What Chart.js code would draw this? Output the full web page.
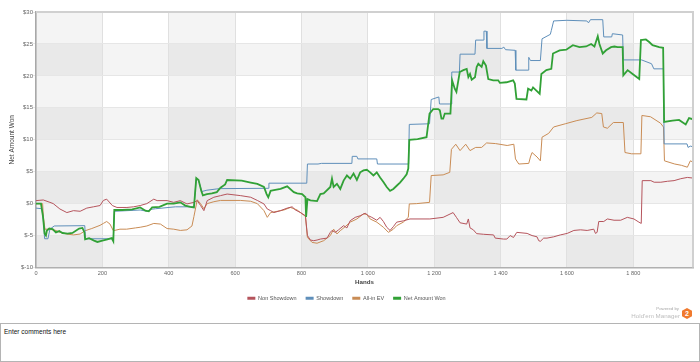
<!DOCTYPE html>
<html>
<head>
<meta charset="utf-8">
<script src="https://cdn.jsdelivr.net/npm/chart.js@4.4.1/dist/chart.umd.min.js"></script>
<style>
  html, body { margin: 0; padding: 0; background: #fff; }
  body { width: 700px; height: 362px; position: relative; overflow: hidden; font-family: "Liberation Sans", Arial, sans-serif; }
  #wrap { position: absolute; left: 0; top: 0; width: 700px; height: 322px; }
  #logo { position: absolute; left: 600px; top: 305px; width: 93px; height: 16px; }
  #logo .pb { position: absolute; right: 14px; top: 1px; font-size: 4.3px; color: #a8a8a8; white-space: nowrap; }
  #logo .hm { position: absolute; right: 13px; top: 7px; font-size: 6.2px; color: #bdbdbd; white-space: nowrap; }
  #logo .hex { position: absolute; right: 1px; top: 3px; width: 10px; height: 11px; background: #f07a2e;
    clip-path: polygon(50% 0, 100% 25%, 100% 75%, 50% 100%, 0 75%, 0 25%);
    color: #fff; font-weight: bold; font-size: 7px; line-height: 11px; text-align: center; }
  #comments { position: absolute; left: 0; top: 323px; width: 700px; height: 39px; box-sizing: border-box;
    border: 1px solid #b4b4b4; font-size: 6.5px; color: #111; padding: 4px 3px; }
</style>
</head>
<body>
<div id="wrap"><canvas id="graph" width="700" height="322"></canvas></div>
<div id="logo"><span class="pb">Powered by</span><span class="hm">Hold'em Manager</span><span class="hex">2</span></div>
<div id="comments">Enter comments here</div>
<script>
// Hands graph: four cumulative winnings lines over hands played.

const seriesNames = ["Non Showdown", "Showdown", "All-in EV", "Net Amount Won"];
const seriesColors = ["#b5545c", "#5f8fba", "#c98c55", "#31a136"];

const HANDS_MAX = 1980;
const Y_MIN = -10, Y_MAX = 30;
const xTickValues = [0, 200, 400, 600, 800, 1000, 1200, 1400, 1600, 1800];

// Non Showdown winnings
const nsHands = [0,22,42,52,72,93,113,133,153,173,193,203,213,230,244,274,294,314,334,355,365,395,415,435,455,476,486,496,506,516,536,556,576,617,647,667,687,697,707,717,737,757,772,782,797,812,818,827,837,847,857,877,887,892,902,912,927,937,947,962,977,992,1002,1012,1027,1037,1047,1057,1067,1077,1087,1107,1127,1187,1227,1257,1267,1278,1298,1303,1308,1318,1328,1349,1379,1384,1409,1419,1429,1439,1449,1480,1495,1510,1515,1520,1530,1540,1560,1580,1601,1621,1641,1661,1681,1686,1691,1696,1711,1722,1742,1762,1782,1802,1817,1824,1827,1853,1863,1883,1903,1923,1943,1963,1980];
const nsValues = [0.47,0.57,0.2,0,-0.84,-1.4,-1.1,-1.2,-0.7,-0.5,-0.3,0.5,0.7,-0.3,-0.6,-0.6,-0.5,-0.3,0,0.7,0.47,0.47,0.2,0.47,-0.05,0.2,0.47,-0.3,-1.1,0.47,1.0,1.25,1.5,1.25,1.0,0.5,-0.05,-0.84,-1.1,-1.4,-1.1,-0.7,-0.5,-1.0,-1.4,-1.9,-5.0,-5.7,-5.8,-5.7,-5.55,-5.4,-4.5,-4.2,-4.5,-4.1,-3.45,-3.8,-2.67,-2.15,-1.9,-1.5,-1.9,-2.15,-2.6,-2.15,-2.8,-3.7,-4.2,-3.6,-2.9,-2.7,-2.4,-2.4,-2.15,-1.4,-2.15,-3.0,-3.2,-2.4,-3.8,-4.1,-4.7,-4.8,-4.9,-5.4,-5.55,-5.55,-5.0,-5.3,-4.5,-4.66,-5.0,-5.2,-5.8,-5.9,-5.4,-5.4,-5.2,-4.9,-4.66,-4.2,-4.1,-4.2,-4.0,-4.66,-4.5,-2.8,-2.8,-2.4,-2.6,-2.6,-2.15,-2.4,-2.9,-3.1,3.6,3.6,3.35,3.35,3.5,3.6,3.9,4.1,4.0];

// Showdown winnings
const sdHands = [0,18,22,26,36,42,55,147,149,233,236,314,335,345,360,420,476,483,490,500,515,545,556,700,702,816,818,850,860,952,953,967,970,1027,1029,1123,1125,1186,1191,1214,1216,1251,1253,1276,1278,1323,1325,1348,1350,1357,1359,1404,1410,1415,1444,1446,1483,1485,1490,1520,1525,1550,1553,1560,1600,1660,1665,1671,1708,1711,1735,1737,1768,1770,1825,1855,1862,1891,1893,1962,1965,1972,1980];
const sdValues = [-0.7,-0.8,-2.5,-5.5,-5.5,-4.0,-3.5,-3.45,-5.5,-5.5,-1.2,-1.0,-1.2,-0.9,-0.8,-0.5,-0.5,3.9,3.6,1.9,2.1,2.3,2.35,2.4,3.2,3.2,6.2,6.2,6.3,6.3,7.4,7.4,7.0,7.0,6.2,6.2,12.4,12.5,16.3,16.7,15.6,15.6,20.6,20.6,23.4,23.4,25.6,25.6,27.0,27.0,24.3,24.3,24.5,24.1,24.0,20.9,20.9,22.9,22.4,22.4,25.8,26.5,27.1,28.6,28.7,28.6,28.3,28.8,28.8,26.1,26.1,26.6,26.4,22.5,22.5,21.9,21.1,21.1,9.35,9.35,8.8,9.0,8.9];

// All-in EV
const evHands = [0,20,22,27,40,60,72,93,113,133,148,168,193,203,213,223,233,253,273,300,314,334,355,375,395,415,435,455,470,476,486,496,506,516,536,556,617,647,667,687,697,707,727,747,767,787,812,818,832,847,867,887,897,907,917,932,947,967,987,997,1007,1027,1047,1062,1077,1087,1107,1122,1125,1147,1186,1191,1227,1247,1252,1265,1278,1295,1308,1325,1343,1358,1385,1420,1440,1445,1455,1485,1490,1495,1510,1520,1525,1545,1560,1595,1630,1675,1690,1705,1710,1722,1740,1770,1775,1795,1823,1826,1852,1882,1891,1894,1925,1945,1963,1972,1980];
const evValues = [0,0,-2.0,-4.0,-4.0,-4.2,-4.5,-4.76,-4.9,-4.76,-4.24,-3.9,-3.4,-3.1,-2.8,-3.2,-4.24,-4.0,-4.0,-3.8,-3.7,-3.5,-3.1,-3.2,-3.9,-4.0,-4.2,-4.1,-3.5,-2.0,0.6,0,-0.8,0,0.3,0.5,0.5,0.37,0,-1.1,-2.15,-1.4,-1.2,-1.0,-0.6,-1.0,-2.0,-5.3,-6.07,-6.2,-5.8,-5.0,-4.0,-4.75,-4.24,-3.6,-2.9,-2.4,-1.6,-1.7,-2.4,-2.9,-3.7,-4.5,-4.0,-3.45,-2.9,-2.15,-0.05,0,0.2,4.4,4.5,4.9,8.5,9.3,8.3,9.3,8.3,8.8,8.8,9.5,9.4,9.1,9.3,7.0,6.2,6.3,7.3,8.0,7.3,6.7,10.4,11.0,12.0,12.5,13.0,13.5,14.2,14.1,12.0,11.8,12.7,12.7,8.0,7.8,7.8,13.8,13.6,12.6,12.0,6.7,6.2,6.0,5.7,6.7,6.5];

// Net Amount Won
const netHands = [0,15,21,26,30,33,40,50,60,70,80,95,110,130,140,146,148,160,175,185,200,215,228,233,236,260,290,314,330,340,350,372,395,415,435,450,465,476,483,490,498,503,515,530,545,556,570,576,620,647,667,687,695,700,707,717,737,757,777,787,802,812,814,818,827,847,857,867,887,892,897,907,917,927,937,947,957,967,977,987,997,1007,1017,1027,1037,1047,1057,1067,1077,1087,1097,1107,1117,1122,1125,1150,1177,1186,1197,1212,1217,1222,1227,1232,1249,1254,1262,1267,1277,1288,1298,1303,1308,1313,1323,1328,1333,1343,1348,1356,1363,1378,1393,1398,1418,1438,1443,1448,1478,1483,1493,1498,1508,1518,1523,1538,1553,1558,1578,1598,1618,1638,1658,1673,1683,1693,1698,1708,1718,1733,1743,1753,1768,1770,1783,1798,1818,1823,1838,1848,1858,1878,1890,1893,1918,1938,1958,1968,1980];
const netValues = [0,0,-2.0,-4.7,-5.0,-4.2,-3.9,-4.0,-4.5,-4.3,-4.6,-4.7,-4.6,-3.9,-3.8,-4.5,-5.6,-5.4,-5.8,-6.0,-5.8,-5.6,-5.4,-5.9,-1.0,-1.0,-0.9,-0.6,-1.1,-1.2,-0.6,-0.5,0,0,0.2,-0.3,-0.5,-0.6,4.0,3.7,2.0,1.3,1.5,1.6,1.8,2.5,3.0,3.7,3.6,3.3,3.1,2.6,1.5,1.0,2.0,2.1,2.3,2.7,1.8,1.6,1.5,1.0,-2.1,0.7,0.5,0.4,1.5,1.6,2.6,3.9,2.6,3.1,2.3,3.6,4.4,3.9,4.7,3.7,4.9,5.2,5.3,4.9,4.4,4.9,4.1,3.4,2.6,2.0,2.3,2.8,3.3,3.9,4.6,5.5,10.0,10.1,10.4,14.1,14.8,14.8,14.6,13.3,13.3,14.1,14.1,19.3,18.0,17.5,20.6,20.9,21.1,19.8,20.3,19.4,19.8,21.4,21.9,21.4,22.3,21.6,19.5,19.3,19.3,18.9,19.0,19.3,18.8,16.4,16.3,18.0,17.7,18.2,17.7,17.2,20.3,20.9,21.1,23.5,24.0,24.1,24.8,24.5,24.6,25.0,24.6,26.2,25.0,23.5,24.0,24.5,24.6,24.5,24.5,20.1,20.9,20.3,19.5,25.6,25.7,25.3,24.8,24.5,24.4,12.8,13.0,13.1,12.4,13.4,13.2];

const handsList = [nsHands, sdHands, evHands, netHands];
const valuesList = [nsValues, sdValues, evValues, netValues];

function toPoints(hands, values) {
  return hands.map((h, i) => ({ x: h, y: values[i] }));
}

function handsLabel(v) {
  // thousands with a space, "1 000"
  return v >= 1000 ? Math.floor(v / 1000) + " " + String(v % 1000).padStart(3, "0") : String(v);
}

// checkerboard shading plus the plot frame
const bandsPlugin = {
  id: "bands",
  beforeDraw(chart) {
    const { ctx, chartArea: a, scales: { x, y } } = chart;
    ctx.save();
    ctx.fillStyle = "#fff";
    ctx.fillRect(a.left, a.top, a.width, a.height);
    ctx.fillStyle = "rgba(0,0,0,0.042)";
    for (let v = Y_MIN; v < Y_MAX; v += 10) {
      const top = y.getPixelForValue(v + 5), bot = y.getPixelForValue(v);
      ctx.fillRect(a.left, top, a.width, bot - top);
    }
    for (let h = 0; h < HANDS_MAX; h += 400) {
      const l = x.getPixelForValue(h), r = x.getPixelForValue(Math.min(h + 200, HANDS_MAX));
      ctx.fillRect(l, a.top, r - l, a.height);
    }
    ctx.restore();
  },
  afterDraw(chart) {
    const { ctx, chartArea: a } = chart;
    ctx.save();
    ctx.strokeStyle = "#d0d0d0";
    ctx.lineWidth = 2;
    ctx.beginPath();
    ctx.moveTo(a.left, a.top);
    ctx.lineTo(a.right, a.top);
    ctx.lineTo(a.right, a.bottom);
    ctx.stroke();
    ctx.restore();
  }
};

Chart.defaults.font.family = '"Liberation Sans", Arial, sans-serif';
Chart.defaults.color = "#666";

const datasets = seriesNames.map((name, i) => ({
  label: name,
  data: toPoints(handsList[i], valuesList[i]),
  borderColor: seriesColors[i],
  backgroundColor: seriesColors[i],
  borderWidth: i === 3 ? 1.8 : 1,
  pointRadius: 0,
  tension: 0,
  fill: false,
  order: i === 3 ? 0 : 1
}));

new Chart(document.getElementById("graph"), {
  type: "line",
  data: { datasets },
  options: {
    responsive: false,
    animation: false,
    events: [],
    layout: { padding: { left: 0, right: 7, top: 12, bottom: 11 } },
    plugins: {
      tooltip: { enabled: false },
      legend: {
        position: "bottom",
        align: "center",
        labels: {
          boxWidth: 8,
          boxHeight: 3,
          padding: 9,
          color: "#555",
          font: { size: 5.5 },
          sort: (a, b) => a.datasetIndex - b.datasetIndex,
          generateLabels(chart) {
            return Chart.defaults.plugins.legend.labels.generateLabels(chart)
              .map(l => Object.assign(l, { lineWidth: 0 }));
          }
        }
      }
    },
    scales: {
      x: {
        type: "linear",
        min: 0,
        max: HANDS_MAX,
        afterBuildTicks(scale) {
          scale.ticks = xTickValues.map(value => ({ value }));
        },
        ticks: {
          autoSkip: false,
          maxRotation: 0,
          padding: 3,
          font: { size: 5.6 },
          color: "#666",
          callback: v => handsLabel(v)
        },
        grid: { color: "#e0e0e0", drawTicks: false },
        border: { color: "#b0b0b0", width: 1.5 },
        title: { display: true, text: "Hands", color: "#444", font: { size: 6.2, weight: "bold" }, padding: 0 },
        afterFit(scale) { scale.height = 19; }
      },
      y: {
        min: Y_MIN,
        max: Y_MAX,
        ticks: {
          stepSize: 5,
          padding: 0,
          font: { size: 6 },
          color: "#666",
          callback: v => "$" + v
        },
        grid: { color: "#e6e6e6", tickLength: 3 },
        border: { color: "#a8a8a8", width: 1.5 },
        title: { display: true, text: "Net Amount Won", color: "#444", font: { size: 6.5 }, padding: { top: 8, bottom: 0 } },
        afterFit(scale) { scale.width = 36; }
      }
    }
  },
  plugins: [bandsPlugin]
});
</script>
</body>
</html>
